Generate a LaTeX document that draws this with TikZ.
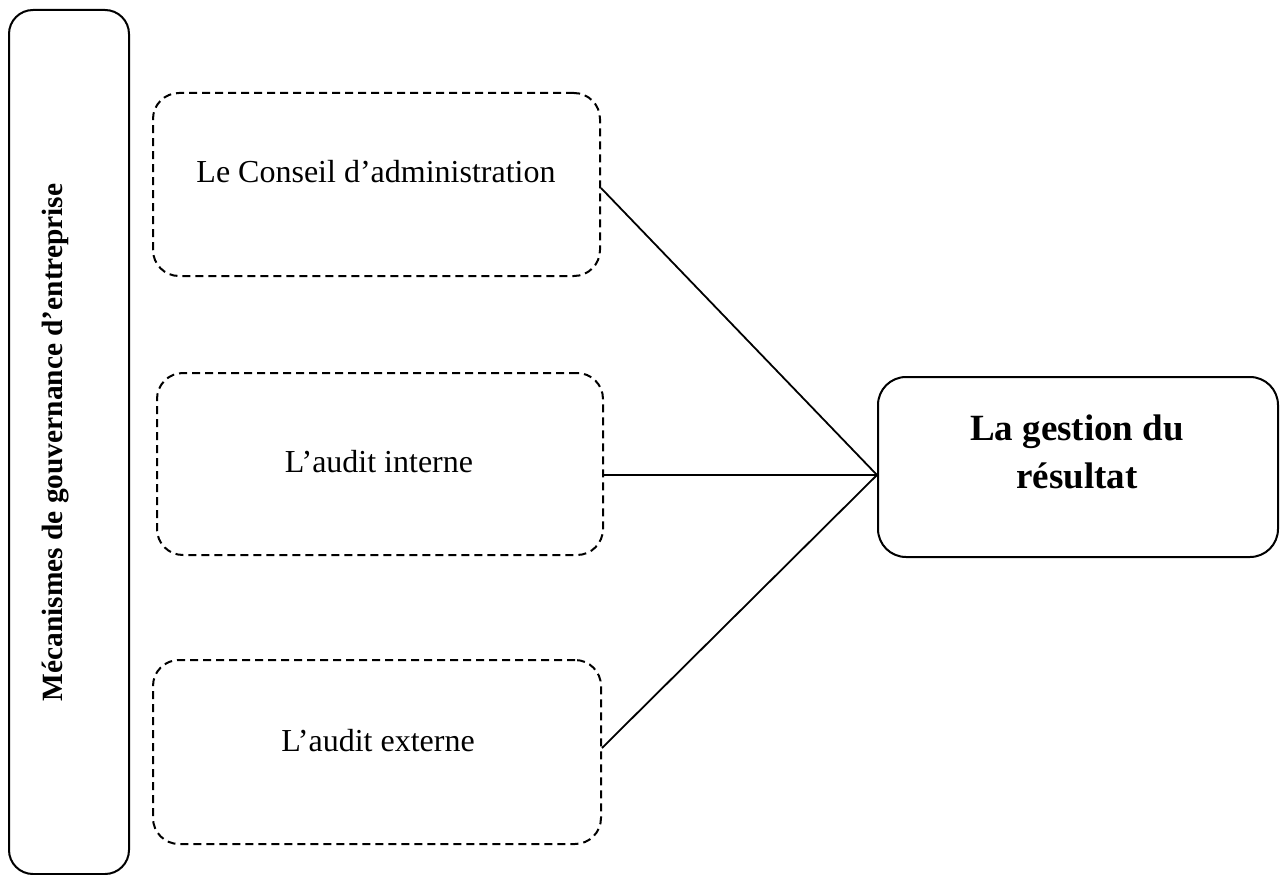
\documentclass[tikz,border=0pt]{standalone}
\usepackage{fontspec}
\setmainfont{Liberation Serif}
\begin{document}
\begin{tikzpicture}[x=1pt,y=1pt,
  solidbox/.style={draw, line width=2pt, rounded corners=24pt, inner sep=0pt},
  dashbox/.style={draw, line width=2pt, dash pattern=on 8pt off 5pt, rounded corners=26pt, inner sep=0pt},
  lbl/.style={inner sep=0pt, anchor=base, font=\fontsize{32}{38}\selectfont},
  title/.style={inner sep=0pt, anchor=base, font=\fontsize{37}{48}\selectfont\bfseries},
  conn/.style={line width=1.8pt}]
\useasboundingbox (0,0) rectangle (1286,-875);
% left tall box
\node[solidbox, minimum width=120pt, minimum height=864pt] (mech) at (69,-442) {};
\node[inner sep=0pt, anchor=base, rotate=90, font=\fontsize{29.4}{34}\selectfont\bfseries] (mechtxt) at (62,-442.5) {Mécanismes de gouvernance d’entreprise};
% dashed boxes
\node[dashbox, minimum width=447pt, minimum height=183pt] (b1) at (376.5,-184.5) {};
\node[dashbox, minimum width=446pt, minimum height=182pt] (b2) at (380,-464) {};
\node[dashbox, minimum width=448pt, minimum height=184pt] (b3) at (377,-752) {};
\node[lbl] (t1) at (376,-182) {Le Conseil d’administration};
\node[lbl] (t2) at (379,-472) {L’audit interne};
\node[lbl] (t3) at (378,-751) {L’audit externe};
% right box
\node[solidbox, rounded corners=28pt, minimum width=400pt, minimum height=180pt] (r) at (1078,-467) {};
\node[title] (r1) at (1077,-440) {La gestion du};
\node[title] (r2) at (1077,-488) {résultat};
% connectors
\coordinate (hub) at ([yshift=-8pt]r.west);
\draw[conn] ([yshift=-3.5pt]b1.east) -- (hub);
\draw[conn] (b2.east |- hub) -- (hub);
\draw[conn] ([yshift=4pt]b3.east) -- (hub);
\end{tikzpicture}
\end{document}
